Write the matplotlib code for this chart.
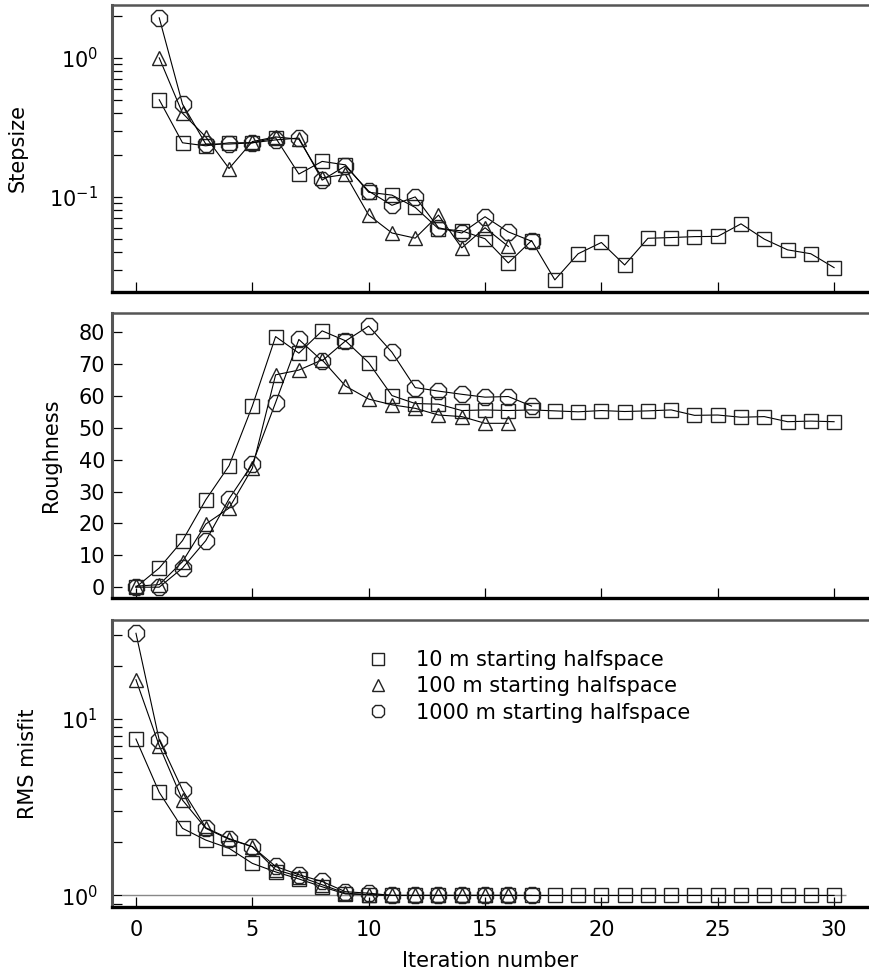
import numpy as np
import matplotlib
matplotlib.use('Agg')
import matplotlib.pyplot as plt
from matplotlib.ticker import LogLocator, NullFormatter, MultipleLocator
from matplotlib.lines import Line2D

plt.rcParams['font.family'] = ['DejaVu Sans']
plt.rcParams['font.size'] = 15

# iterations for each starting model
it10 = list(range(0, 31))
it100 = list(range(0, 17))
it1000 = list(range(0, 18))

# stepsize (starts at iteration 1)
step10 = [0.50, 0.245, 0.233, 0.245, 0.245, 0.266, 0.146, 0.18, 0.17, 0.108,
          0.103, 0.084, 0.059, 0.057, 0.050, 0.0335, 0.0485, 0.0253, 0.039, 0.047,
          0.0324, 0.0504, 0.051, 0.0518, 0.052, 0.064, 0.0497, 0.0416, 0.039, 0.031]
step100 = [1.0, 0.40, 0.27, 0.16, 0.25, 0.27, 0.26, 0.137, 0.145, 0.074,
           0.055, 0.0505, 0.074, 0.043, 0.060, 0.044]
step1000 = [1.94, 0.465, 0.24, 0.24, 0.245, 0.257, 0.265, 0.132, 0.167, 0.11,
            0.087, 0.10, 0.06, 0.055, 0.072, 0.056, 0.048]

# roughness
rough10 = [0, 6.0, 14.6, 27.4, 38.1, 56.8, 78.6, 73.4, 80.4, 77.3, 70.4,
           60.1, 57.6, 57.4, 55.4, 55.6, 55.4, 55.6, 55.3, 55.0, 55.4,
           55.1, 55.3, 55.6, 53.9, 54.0, 53.3, 53.5, 51.9, 52.1, 51.9]
rough100 = [0.3, 0.8, 8.0, 19.8, 24.8, 37.3, 66.6, 68.1, 71.3, 63.1, 59.0,
            57.2, 56.1, 54.0, 53.5, 51.4, 51.4]
rough1000 = [0, 0, 6.0, 14.6, 27.7, 38.6, 57.9, 77.7, 71.0, 77.2, 81.9,
             73.7, 62.6, 61.5, 60.5, 59.6, 59.8, 56.8]

# RMS misfit
rms10 = [7.7, 3.84, 2.40, 2.06, 1.85, 1.52, 1.36, 1.24, 1.12, 1.02, 1.01] + [1.0] * 20
rms100 = [16.7, 7.06, 3.47, 2.40, 2.08, 1.89, 1.40, 1.28, 1.15, 1.03, 1.01] + [1.0] * 6
rms1000 = [30.6, 7.6, 3.96, 2.42, 2.10, 1.89, 1.46, 1.31, 1.20, 1.05, 1.03] + [1.0] * 7
target_rms = 1.0

labels = ['10 m starting halfspace', '100 m starting halfspace', '1000 m starting halfspace']

W, H = 869, 975
fig = plt.figure(figsize=(W / 100, H / 100), dpi=100)


def make_ax(top, bottom):
    ax = fig.add_axes([112 / W, 1 - bottom / H, 1 - 112 / W, (bottom - top) / H])
    ax.set_xlim(-1.03, 31.5)
    ax.xaxis.set_major_locator(MultipleLocator(5))
    ax.tick_params(axis='both', which='both', direction='in', length=7, width=0.9,
                   top=False, right=False)
    ax.tick_params(axis='y', pad=5)
    ax.spines['right'].set_visible(False)
    ax.spines['left'].set_linewidth(2.2)
    ax.spines['left'].set_color('#555555')
    ax.spines['top'].set_linewidth(1.8)
    ax.spines['top'].set_color('#555555')
    ax.spines['bottom'].set_linewidth(2.4)
    return ax


def log_y(ax, lo, hi):
    ax.set_yscale('log')
    ax.set_ylim(lo, hi)
    ax.yaxis.set_major_locator(LogLocator(base=10))
    ax.yaxis.set_minor_locator(LogLocator(base=10, subs=np.arange(2, 10)))
    ax.yaxis.set_minor_formatter(NullFormatter())
    ax.tick_params(axis='y', pad=10)


sty = dict(color='k', lw=0.8, mfc='none', mec='#222222', mew=1.0)


def draw(ax, xs, ys):
    ax.plot(xs[0], ys[0], marker='s', ms=10.5, **sty)
    ax.plot(xs[1], ys[1], marker='^', ms=10, **sty)
    ax.plot(xs[2], ys[2], marker='8', ms=12, **sty)


# top: stepsize
ax1 = make_ax(5, 292)
draw(ax1, [it10[1:], it100[1:], it1000[1:]], [step10, step100, step1000])
log_y(ax1, 0.0207, 2.4)
ax1.set_xticklabels([])
ax1.set_ylabel('Stepsize')
ax1.yaxis.set_label_coords(-0.112, 0.5)

# middle: roughness
ax2 = make_ax(313, 598)
draw(ax2, [it10, it100, it1000], [rough10, rough100, rough1000])
ax2.set_ylim(-3.4, 86)
ax2.yaxis.set_major_locator(MultipleLocator(10))
ax2.set_xticklabels([])
ax2.set_ylabel('Roughness')
ax2.yaxis.set_label_coords(-0.068, 0.5)

# bottom: RMS misfit
ax3 = make_ax(620, 907)
ax3.hlines(target_rms, it10[0] - 0.6, it10[-1] + 0.5, color='#888888', lw=1.0)
draw(ax3, [it10, it100, it1000], [rms10, rms100, rms1000])
log_y(ax3, 0.86, 36.4)
ax3.set_ylabel('RMS misfit')
ax3.yaxis.set_label_coords(-0.098, 0.5)
ax3.set_xlabel('Iteration number', labelpad=8)
ax3.tick_params(axis='x', pad=9)

handles = [Line2D([], [], ls='none', marker=m, ms=s, mfc='none', mec='#222222', mew=1.0)
           for m, s in [('s', 9), ('^', 8.5), ('8', 10)]]
ax3.legend(handles, labels, loc='upper left', bbox_to_anchor=(0.338, 0.895),
           frameon=False, borderpad=0, borderaxespad=0, handlelength=1.0,
           handletextpad=1.3, labelspacing=0.3, numpoints=1, fontsize=15)

fig.savefig('out.png', dpi=100)
